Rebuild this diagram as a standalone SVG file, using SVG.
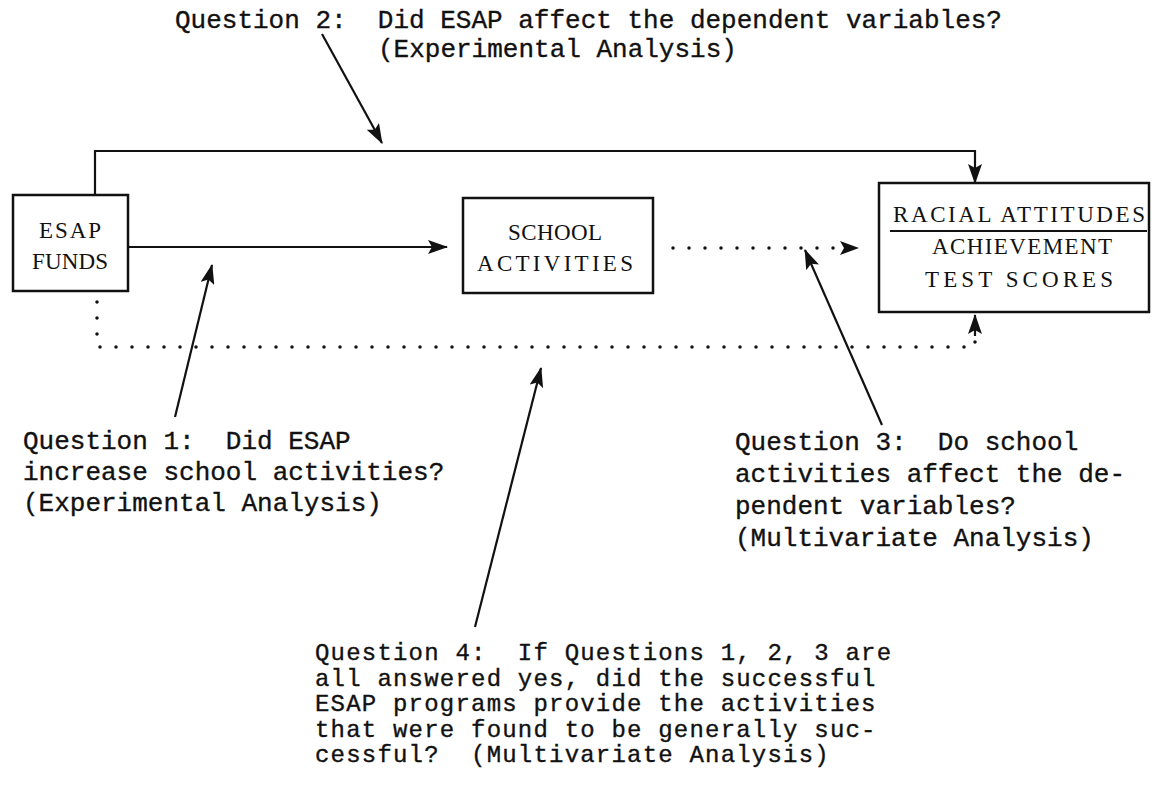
<svg xmlns="http://www.w3.org/2000/svg" width="1152" height="793" viewBox="0 0 1152 793">
<defs>
<style>
.box{fill:#fff;stroke:#111;stroke-width:2.5}
.bt{font-family:"Liberation Serif",serif;font-size:23px;fill:#111;text-anchor:middle}
.q{font-family:"Liberation Mono",monospace;font-size:26px;fill:#111;white-space:pre;stroke:#111;stroke-width:0.35}
.q4{font-size:24px;letter-spacing:1.2px}
.ln{fill:none;stroke:#111;stroke-width:2.2}
.dot{fill:none;stroke:#111;stroke-width:3.5;stroke-linecap:round;stroke-dasharray:0 16}
</style>
<marker id="ah" viewBox="0 0 20 14" refX="19" refY="7" markerWidth="20" markerHeight="14" markerUnits="userSpaceOnUse" orient="auto">
<path d="M0,0 L20,7 L0,14 L4,7 Z" fill="#111"/>
</marker>
</defs>
<rect width="1152" height="793" fill="#fff"/>

<g id="connectors">
<path class="ln" d="M95,195 V151 H975 V183" marker-end="url(#ah)"/>
<path class="ln" d="M128,247 H447" marker-end="url(#ah)"/>
<path class="dot" d="M673,248 H835"/>
<path d="M840,241 L859,248 L840,255 L844,248 Z" fill="#111"/>
<path class="dot" d="M97,302 V347 H975 V339"/>
<path class="ln" d="M975,336 V315" marker-end="url(#ah)"/>
<path class="ln" d="M322,34 L382,143" marker-end="url(#ah)"/>
<path class="ln" d="M175,417 L212,265" marker-end="url(#ah)"/>
<path class="ln" d="M882,425 L805,250" marker-end="url(#ah)"/>
<path class="ln" d="M475,627 L541,368" marker-end="url(#ah)"/>
</g>

<g id="esap-funds">
<rect class="box" x="13" y="195" width="115" height="96"/>
<text class="bt" x="70" y="238" textLength="62" lengthAdjust="spacing">ESAP</text>
<text class="bt" x="70" y="269" textLength="76" lengthAdjust="spacing">FUNDS</text>
</g>

<g id="school-activities">
<rect class="box" x="463" y="198" width="190" height="95"/>
<text class="bt" x="555" y="240" textLength="94" lengthAdjust="spacing">SCHOOL</text>
<text class="bt" x="555" y="271" textLength="156" lengthAdjust="spacing">ACTIVITIES</text>
</g>

<g id="outcomes">
<rect class="box" x="879" y="183" width="270" height="129"/>
<text class="bt" x="1019" y="222" textLength="252" lengthAdjust="spacing">RACIAL ATTITUDES</text>
<line x1="890" y1="231" x2="1147" y2="231" stroke="#111" stroke-width="2"/>
<text class="bt" x="1022" y="254" textLength="180" lengthAdjust="spacing">ACHIEVEMENT</text>
<text class="bt" x="1019" y="287" textLength="188" lengthAdjust="spacing">TEST  SCORES</text>
</g>

<g id="question-2">
<text class="q" x="175" y="28">Question 2:  Did ESAP affect the dependent variables?</text>
<text class="q" x="378" y="57">(Experimental Analysis)</text>
</g>

<g id="question-1">
<text class="q" x="23" y="449">Question 1:  Did ESAP</text>
<text class="q" x="23" y="480">increase school activities?</text>
<text class="q" x="23" y="511">(Experimental Analysis)</text>
</g>

<g id="question-3">
<text class="q" x="735" y="450">Question 3:  Do school</text>
<text class="q" x="735" y="482">activities affect the de-</text>
<text class="q" x="735" y="514">pendent variables?</text>
<text class="q" x="735" y="546">(Multivariate Analysis)</text>
</g>

<g id="question-4">
<text class="q q4" x="315" y="660">Question 4:  If Questions 1, 2, 3 are</text>
<text class="q q4" x="315" y="685.5">all answered yes, did the successful</text>
<text class="q q4" x="315" y="711">ESAP programs provide the activities</text>
<text class="q q4" x="315" y="736.5">that were found to be generally suc-</text>
<text class="q q4" x="315" y="762">cessful?  (Multivariate Analysis)</text>
</g>
</svg>
